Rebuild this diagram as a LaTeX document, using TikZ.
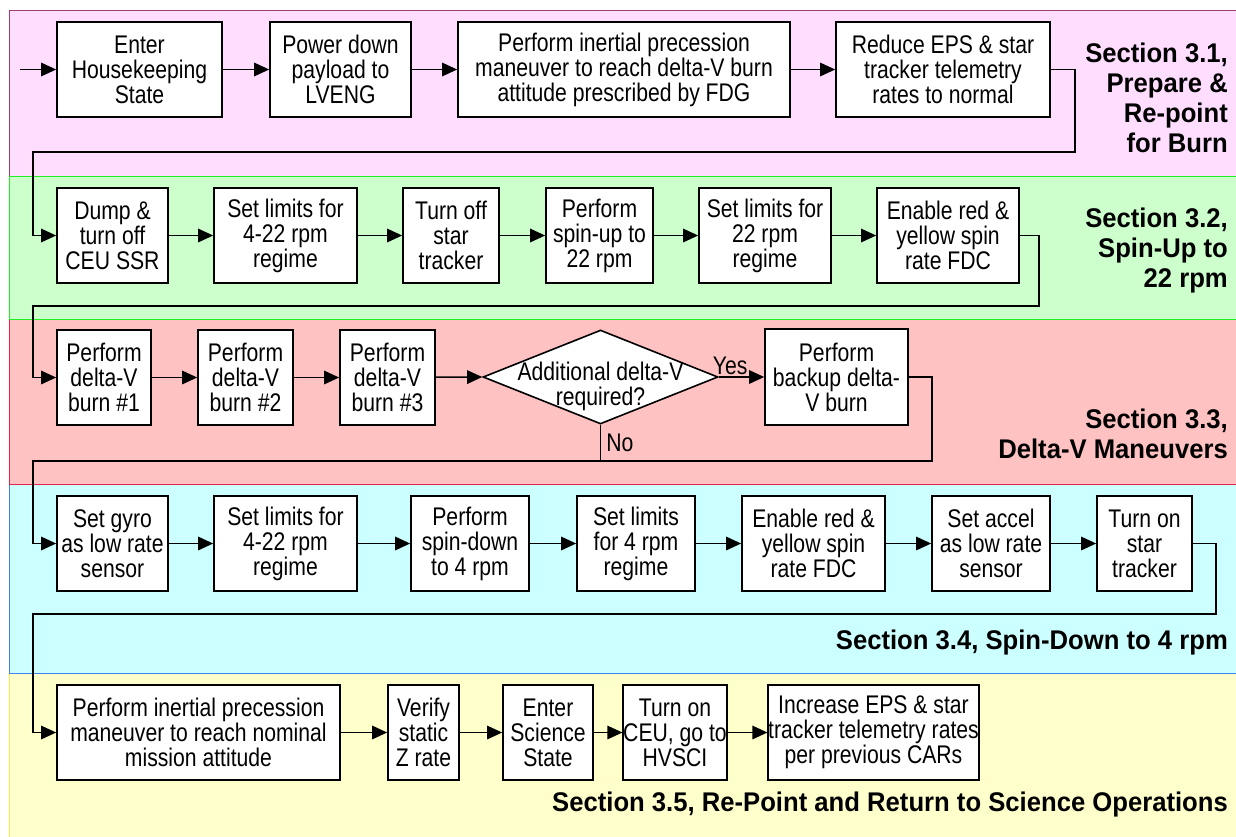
\documentclass[tikz,border=0pt]{standalone}
\usepackage{fontspec}
\setmainfont{Liberation Sans}[FakeStretch=0.83]
\newfontfamily\secfont{Liberation Sans}[FakeStretch=0.95]
\usetikzlibrary{arrows.meta,shapes.geometric}
\definecolor{bandpink}{HTML}{FFDDFF}
\definecolor{bandgreen}{HTML}{CCFFCC}
\definecolor{bandred}{HTML}{FFC2C2}
\definecolor{bandcyan}{HTML}{CCFFFF}
\definecolor{bandyellow}{HTML}{FFFFCC}
\definecolor{pinkline}{HTML}{A03C6E}
\definecolor{greenline}{HTML}{22EE22}
\definecolor{redline}{HTML}{E8204A}
\definecolor{cyanline}{HTML}{4080F0}
\definecolor{yellowline}{HTML}{F0F040}

\begin{document}
\begin{tikzpicture}[x=1pt,y=-1pt,
  every node/.style={inner sep=0pt, font=\fontsize{25.5}{25}\selectfont},
  box/.style={draw, fill=white, line width=1.7pt, align=center, minimum height=95pt},
  decision/.style={diamond, draw, fill=white, line width=1.6pt, minimum width=235pt, minimum height=94pt},
  flow/.style={line width=1.5pt, -{Triangle[length=15pt,width=13.5pt]}},
  link/.style={line width=1.5pt},
  band/.style={line width=1pt},
  section/.style={anchor=east, align=right, font=\secfont\bfseries\fontsize{27}{30}\selectfont}
]
  \useasboundingbox (0,0) rectangle (1236,836);
  \clip (0,0) rectangle (1236,836);
  \fill[white] (0,0) rectangle (1236,836);
  \draw[band, draw=yellowline, fill=bandyellow] (9,673) rectangle (1250,850);
  \draw[band, draw=cyanline, fill=bandcyan] (9,484) rectangle (1250,673);
  \draw[band, draw=redline, fill=bandred] (9,319) rectangle (1250,484);
  \draw[band, draw=pinkline, fill=bandpink] (9,10) rectangle (1250,176);
  \draw[band, draw=greenline, fill=bandgreen] (9,176) rectangle (1250,319);

  \node[section] (sec1) at (1228,97.5) {Section 3.1,\\Prepare \&\\Re-point\\for Burn};
  \node[section] (sec2) at (1228,251) {Section 3.2,\\Spin-Up to\\22 rpm};
  \node[section] (sec3) at (1228,434) {Section 3.3,\\Delta-V Maneuvers};
  \node[section] (sec4) at (1228,643) {Section 3.4, Spin-Down to 4 rpm};
  \node[section] (sec5) at (1228,805) {Section 3.5, Re-Point and Return to Science Operations};

  \coordinate (start) at (20,69.5);
  \node[box, minimum width=165pt] (hk) at (139.5,69.5) {Enter\\Housekeeping\\State};
  \node[box, minimum width=141pt] (pd) at (340.5,69.5) {Power down\\payload to\\LVENG};
  \node[box, minimum width=332pt] (pim) at (624,69.5) {Perform inertial precession\\maneuver to reach delta-V burn\\attitude prescribed by FDG};
  \node[box, minimum width=214pt] (red) at (943,69.5) {Reduce EPS \& star\\tracker telemetry\\rates to normal};

  \node[box, minimum width=111pt] (dump) at (112.5,235.5) {Dump \&\\turn off\\CEU SSR};
  \node[box, minimum width=143pt] (lima) at (285.5,235.5) {Set limits for\\4-22 rpm\\regime};
  \node[box, minimum width=96pt] (stoff) at (451,235.5) {Turn off\\star\\tracker};
  \node[box, minimum width=107pt] (spup) at (599.5,235.5) {Perform\\spin-up to\\22 rpm};
  \node[box, minimum width=132pt] (limb) at (765,235.5) {Set limits for\\22 rpm\\regime};
  \node[box, minimum width=142pt] (fdca) at (948,235.5) {Enable red \&\\yellow spin\\rate FDC};

  \node[box, minimum width=94pt] (burna) at (104,377.5) {Perform\\delta-V\\burn \#1};
  \node[box, minimum width=95pt] (burnb) at (245.5,377.5) {Perform\\delta-V\\burn \#2};
  \node[box, minimum width=95pt] (burnc) at (387.5,377.5) {Perform\\delta-V\\burn \#3};
  \node[decision, label={[align=center, yshift=-9pt]center:Additional delta-V\\required?}] (dia) at (600.5,377) {};
  \node[box, minimum width=143pt, minimum height=96pt] (backup) at (836.5,377) {Perform\\backup delta-\\V burn};

  \node[box, minimum width=111pt] (gyro) at (112.5,543.5) {Set gyro\\as low rate\\sensor};
  \node[box, minimum width=143pt] (limc) at (285.5,543.5) {Set limits for\\4-22 rpm\\regime};
  \node[box, minimum width=118pt] (spdn) at (470,543.5) {Perform\\spin-down\\to 4 rpm};
  \node[box, minimum width=118pt] (limd) at (636,543.5) {Set limits\\for 4 rpm\\regime};
  \node[box, minimum width=143pt] (fdcb) at (813.5,543.5) {Enable red \&\\yellow spin\\rate FDC};
  \node[box, minimum width=118pt] (accel) at (991,543.5) {Set accel\\as low rate\\sensor};
  \node[box, minimum width=95pt] (ston) at (1144.5,543.5) {Turn on\\star\\tracker};

  \node[box, minimum width=283pt] (pimb) at (198.5,732.5) {Perform inertial precession\\maneuver to reach nominal\\mission attitude};
  \node[box, minimum width=71pt] (verify) at (423.5,732.5) {Verify\\static\\Z rate};
  \node[box, minimum width=90pt] (sci) at (548,732.5) {Enter\\Science\\State};
  \node[box, minimum width=98pt] (ceu) at (675,732.5) {Turn on\\CEU, go to\\HVSCI};
  \node[box, minimum width=207pt] (inc) at (873.5,732.5) {Increase EPS \& star\\tracker telemetry rates\\per previous CARs};

  \draw[flow] (start) -- (hk);
  \draw[flow] (hk) -- (pd);
  \draw[flow] (pd) -- (pim);
  \draw[flow] (pim) -- (red);
  \draw[flow] (red.east) -- ++(24,0) |- (33,152) |- (dump.west);

  \draw[flow] (dump) -- (lima);
  \draw[flow] (lima) -- (stoff);
  \draw[flow] (stoff) -- (spup);
  \draw[flow] (spup) -- (limb);
  \draw[flow] (limb) -- (fdca);
  \draw[flow] (fdca.east) -- ++(19,0) |- (33,306) |- (burna.west);

  \draw[flow] (burna) -- (burnb);
  \draw[flow] (burnb) -- (burnc);
  \draw[flow] (burnc) -- (dia.west);
  \draw[flow] (dia.east) -- node[pos=0.25, anchor=south, yshift=2pt] {Yes} (backup.west |- dia.east);
  \draw[link] (dia.south) -- node[anchor=west, xshift=5pt] {No} (dia.south |- 0,461);
  \draw[flow] (backup.east) -- ++(23,0) |- (33,461) |- (gyro.west);

  \draw[flow] (gyro) -- (limc);
  \draw[flow] (limc) -- (spdn);
  \draw[flow] (spdn) -- (limd);
  \draw[flow] (limd) -- (fdcb);
  \draw[flow] (fdcb) -- (accel);
  \draw[flow] (accel) -- (ston);
  \draw[flow] (ston.east) -- ++(23,0) |- (33,614) |- (pimb.west);

  \draw[flow] (pimb) -- (verify);
  \draw[flow] (verify) -- (sci);
  \draw[flow] (sci) -- (ceu);
  \draw[flow] (ceu) -- (inc);
\end{tikzpicture}
\end{document}
